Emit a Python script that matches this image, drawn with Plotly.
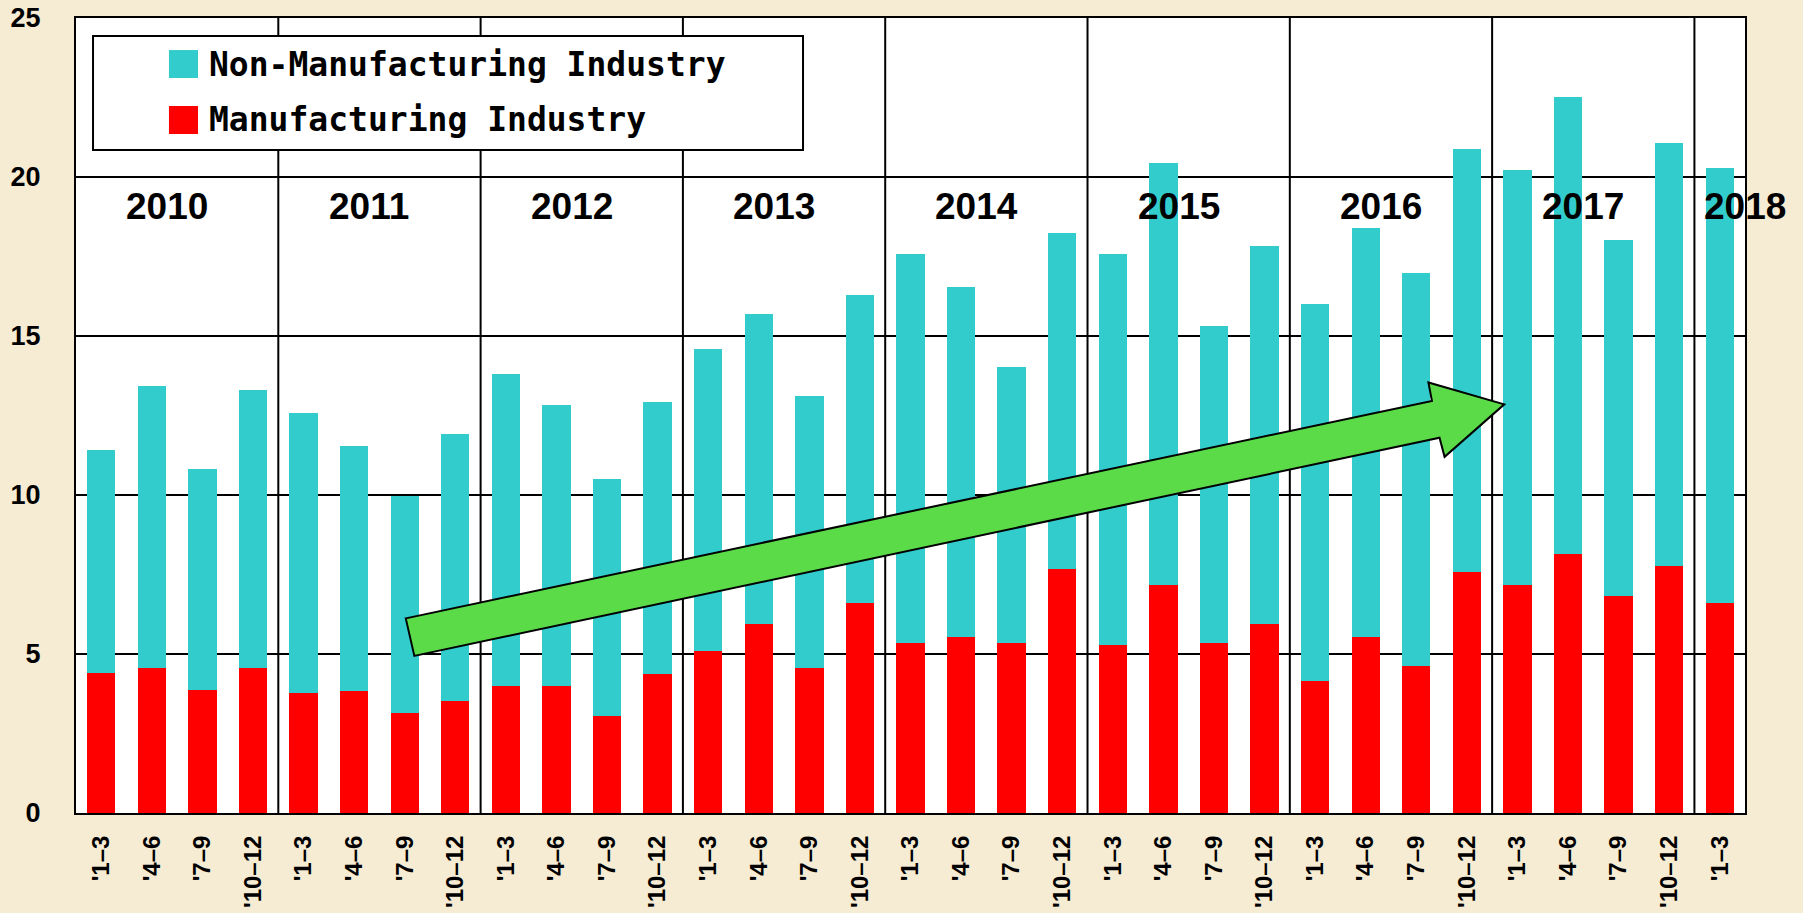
import plotly.graph_objects as go

# ---------------- data ----------------
years = ["2010", "2011", "2012", "2013", "2014", "2015", "2016", "2017", "2018"]
quarter_labels = ["'1–3", "'4–6", "'7–9", "'10–12"] * 8 + ["'1–3"]

manufacturing = [
    4.39, 4.56, 3.88, 4.56,
    3.78, 3.85, 3.13, 3.51,
    3.98, 3.98, 3.06, 4.36,
    5.10, 5.94, 4.56, 6.60,
    5.34, 5.55, 5.34, 7.68,
    5.29, 7.17, 5.34, 5.94,
    4.16, 5.55, 4.63, 7.58,
    7.17, 8.15, 6.81, 7.77,
    6.61,
]
non_manufacturing = [
    7.02, 8.87, 6.95, 8.73,
    8.80, 7.69, 6.84, 8.41,
    9.82, 8.86, 7.43, 8.55,
    9.49, 9.76, 8.54, 9.69,
    12.24, 10.99, 8.69, 10.56,
    12.29, 13.27, 9.97, 11.90,
    11.86, 12.84, 12.36, 13.29,
    13.06, 14.37, 11.22, 13.30,
    13.68,
]

# ---------------- style ----------------
BG = "#F6ECD4"
CYAN = "#33CCCC"
RED = "#FF0000"
GREEN = "#5CDB48"
NUM_FONT = "Liberation Sans, Arial, sans-serif"
LEG_FONT = "DejaVu Sans Mono, monospace"

n = len(manufacturing)
xs = list(range(n))

fig = go.Figure()
fig.add_bar(x=xs, y=manufacturing, name="Manufacturing Industry",
            marker=dict(color=RED, line=dict(width=0)))
fig.add_bar(x=xs, y=non_manufacturing, name="Non-Manufacturing Industry",
            marker=dict(color=CYAN, line=dict(width=0)))

fig.update_layout(
    width=1803, height=913,
    margin=dict(l=76, r=58, t=18, b=100, autoexpand=False),
    paper_bgcolor=BG, plot_bgcolor="white",
    barmode="stack", bargap=0.44, showlegend=False,
    xaxis=dict(range=[-0.5, n - 0.5], tickmode="array", tickvals=xs, ticktext=quarter_labels,
               tickangle=-90, showgrid=False, zeroline=False, showline=True, mirror=True,
               linecolor="black", linewidth=2, ticks="", ticklabelstandoff=11,
               tickfont=dict(family=NUM_FONT, size=24, color="black", weight="bold"),
               automargin=False, fixedrange=True),
    yaxis=dict(range=[0, 25], dtick=5, tick0=0, showgrid=True, gridcolor="black", gridwidth=2,
               zeroline=False, showline=True, mirror=True, linecolor="black", linewidth=2,
               ticks="", ticklabelstandoff=28,
               tickfont=dict(family=NUM_FONT, size=27, color="black", weight="bold"),
               automargin=False, fixedrange=True),
)

shapes = []
# year separator lines
for k in range(1, len(years)):
    xb = 4 * k - 0.5
    shapes.append(dict(type="line", xref="x", yref="y", x0=xb, x1=xb, y0=0, y1=25,
                       line=dict(color="black", width=2), layer="below"))

# trend arrow (decoration)
arrow = [(6.02, 6.12), (26.31, 12.96), (26.24, 13.54), (27.74, 12.85),
         (26.56, 11.20), (26.46, 11.80), (6.19, 4.94)]
path = "M " + " L ".join(f"{ax},{ay}" for ax, ay in arrow) + " Z"
shapes.append(dict(type="path", xref="x", yref="y", path=path, fillcolor=GREEN,
                   line=dict(color="black", width=2), layer="above"))

# custom legend box
shapes.append(dict(type="rect", xref="paper", yref="paper", x0=0.0102, x1=0.4356,
                   y0=0.834, y1=0.9774, fillcolor="white",
                   line=dict(color="black", width=2), layer="above"))
legend_items = [("Non-Manufacturing Industry", CYAN, 0.9421),
                ("Manufacturing Industry", RED, 0.8717)]
annotations = []
for label, col, yc in legend_items:
    shapes.append(dict(type="rect", xref="paper", yref="paper", x0=0.0557, x1=0.0731,
                       y0=yc - 0.0176, y1=yc + 0.0176, fillcolor=col,
                       line=dict(color=col, width=0), layer="above"))
    annotations.append(dict(xref="paper", yref="paper", x=0.0785, y=yc, text=label,
                            showarrow=False, xanchor="left", yanchor="middle",
                            font=dict(family=LEG_FONT, size=33, color="black", weight="bold")))

# year labels
for i, yr in enumerate(years):
    first = 4 * i
    xc = first + 1.5 - 0.2
    if xc > n - 0.5:
        xc = n - 0.5
    annotations.append(dict(xref="x", yref="y", x=xc, y=19.06, text=yr, showarrow=False,
                            xanchor="center", yanchor="middle",
                            font=dict(family=NUM_FONT, size=37, color="black", weight="bold")))

fig.update_layout(shapes=shapes, annotations=annotations)
fig.write_html("out.html", config={"displayModeBar": False},
               post_script="document.body.style.margin='0px';document.body.style.overflow='hidden';")
